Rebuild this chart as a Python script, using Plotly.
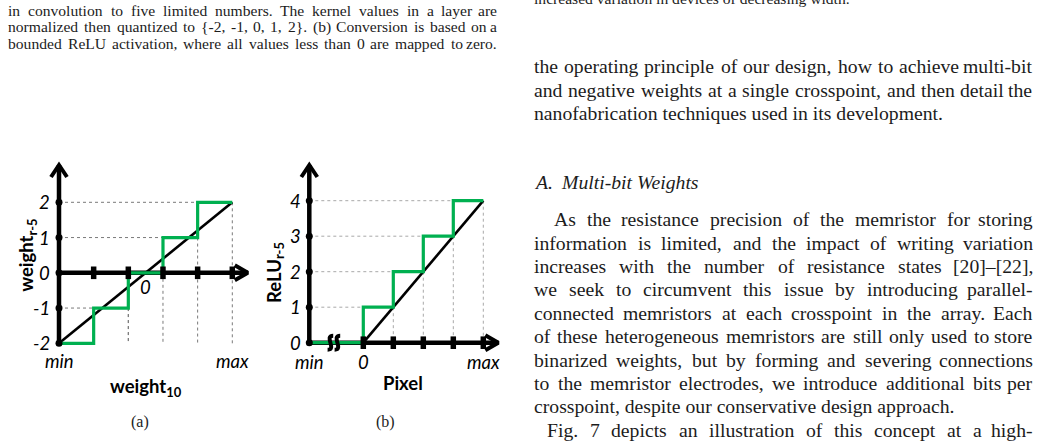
import plotly.graph_objects as go

W, H = 1042, 444

# ------------------------------------------------------------------ data
# chart (a): weight quantisation, x runs from min (0) to max (5)
a_x_min, a_x_max = 0, 5
a_x_zero = 2.5
a_levels = [-2, -1, 0, 1, 2]            # quantised output levels (one per step)
a_xticks = [1, 2, 3, 4, 5]              # tick dots on the weight10 axis
a_diag_x = [0, 5]
a_diag_y = [-2, 2]
a_ytick_text = ["2", "1", "0", "-1", "-2"]
a_ytick_vals = [2, 1, 0, -1, -2]

# chart (b): bounded ReLU, x runs from min (-1.8, broken axis) to max (4)
b_x_min, b_x_zero, b_x_max = -1.8, 0, 4
b_levels = [0, 1, 2, 3, 4]              # step values
b_step_edges = [-1.8, 0, 1, 2, 3, 4]    # x edges of the steps
b_xticks = [0, 1, 2, 3, 4]
b_diag_x = [0, 4]
b_diag_y = [0, 4]
b_ytick_text = ["4", "3", "2", "1", "0"]
b_ytick_vals = [4, 3, 2, 1, 0]

# page text
left_caption = [
    "in convolution to five limited numbers. The kernel values in a layer are",
    "normalized then quantized to {-2, -1, 0, 1, 2}. (b) Conversion is based on a",
    "bounded ReLU activation, where all values less than 0 are mapped to zero.",
]
right_caption_tail = "increased variation in devices of decreasing width."
right_intro = [
    "the operating principle of our design, how to achieve multi-bit",
    "and negative weights at a single crosspoint, and then detail the",
    "nanofabrication techniques used in its development.",
]
heading_num = "A."
heading_txt = "Multi-bit Weights"
right_para = [
    "As the resistance precision of the memristor for storing",
    "information is limited, and the impact of writing variation",
    "increases with the number of resistance states [20]\u2013[22],",
    "we seek to circumvent this issue by introducing parallel-",
    "connected memristors at each crosspoint in the array. Each",
    "of these heterogeneous memristors are still only used to store",
    "binarized weights, but by forming and severing connections",
    "to the memristor electrodes, we introduce additional bits per",
    "crosspoint, despite our conservative design approach.",
    "Fig. 7 depicts an illustration of this concept at a high-",
]

# ------------------------------------------------------------------ helpers
GREEN = "#00B050"
BLACK = "#000000"
TXT = "#1c1c1c"
SERIF = "Liberation Serif"
SANS = "Lato"


def axis_range(v0, p0, v1, p1, dom_lo, dom_hi, vertical=False):
    """range for an axis whose value v0 sits at pixel p0 and v1 at p1"""
    s = (p1 - p0) / (v1 - v0)
    lo = v0 + (dom_lo - p0) / s
    hi = v0 + (dom_hi - p0) / s
    return [lo, hi] if not vertical else [hi, lo]


A_DOM_X = (5, 262)
A_DOM_Y = (150, 400)
ax_rng = axis_range(0, 59.0, 5, 232.3, *A_DOM_X)
ay_rng = axis_range(2, 202.3, -2, 343.3, A_DOM_Y[0], A_DOM_Y[1], vertical=True)
B_DOM_X = (262, 520)
B_DOM_Y = (150, 400)
bx_rng = axis_range(0, 363.3, 4, 483.3, *B_DOM_X)
by_rng = axis_range(4, 200.7, 0, 342.7, B_DOM_Y[0], B_DOM_Y[1], vertical=True)
A_SX, A_SY = 34.66, 35.25   # px per unit
B_SX, B_SY = 30.0, 35.5

fig = go.Figure()


def line(xs, ys, color, width, xa, ya, dash=None):
    fig.add_trace(go.Scatter(x=xs, y=ys, mode="lines", xaxis=xa, yaxis=ya,
                             line=dict(color=color, width=width, dash=dash),
                             hoverinfo="skip", showlegend=False))


# ---------------- chart (a)
xa, ya = "x", "y"
lo = min(a_levels)
for k, lev in enumerate(a_levels):
    right = k + 1
    if lev != 0:
        line([a_x_min, right], [lev, lev], "#7a7a7a", 1, xa, ya, dash="dot")
    if lev != lo:
        line([right, right], [lev, lo], "#7a7a7a", 1, xa, ya, dash="dot")
line([2, 2], [a_levels[1], lo], "#7a7a7a", 1, xa, ya, dash="dot")

a_arrow_x = a_x_max + 15.5 / A_SX
a_arrow_y = max(a_levels) + (202.3 - 165) / A_SY
line([a_x_min, a_arrow_x], [0, 0], BLACK, 4.5, xa, ya)
line([a_x_min, a_x_min], [lo, a_arrow_y], BLACK, 4.5, xa, ya)
line([a_arrow_x - 13 / A_SX, a_arrow_x, a_arrow_x - 13 / A_SX],
     [7.5 / A_SY, 0, -7.5 / A_SY], BLACK, 4, xa, ya)
line([a_x_min - 8 / A_SX, a_x_min, a_x_min + 8 / A_SX],
     [a_arrow_y - 12 / A_SY, a_arrow_y, a_arrow_y - 12 / A_SY], BLACK, 4, xa, ya)

line(a_diag_x, a_diag_y, BLACK, 2.6, xa, ya)
sx, sy = [], []
for k, lev in enumerate(a_levels):
    sx += [k, k + 1]
    sy += [lev, lev]
line(sx, sy, GREEN, 3.2, xa, ya)
fig.add_trace(go.Scatter(x=a_xticks, y=[0] * len(a_xticks), mode="markers", xaxis=xa, yaxis=ya,
                         marker=dict(symbol="line-ns", size=9, line=dict(width=5.5, color=BLACK)),
                         hoverinfo="skip", showlegend=False))
fig.add_trace(go.Scatter(x=[a_x_min] * len(a_levels), y=a_levels, mode="markers", xaxis=xa, yaxis=ya,
                         marker=dict(symbol="circle", size=7, color=BLACK),
                         hoverinfo="skip", showlegend=False))

# ---------------- chart (b)
xb, yb = "x2", "y2"
for k, lev in enumerate(b_levels):
    if lev == 0:
        continue
    xr = b_step_edges[k + 1]
    line([b_x_min, xr], [lev, lev], "#a8a8a8", 1, xb, yb, dash="dot")
    line([xr, xr], [lev, 0], "#a8a8a8", 1, xb, yb, dash="dot")

b_arrow_x = b_x_max + 15 / B_SX
b_arrow_y = max(b_levels) + (200.7 - 165) / B_SY
line([b_x_min, b_arrow_x], [0, 0], BLACK, 4.5, xb, yb)
line([b_x_min, b_x_min], [0, b_arrow_y], BLACK, 4.5, xb, yb)
line([b_arrow_x - 13 / B_SX, b_arrow_x, b_arrow_x - 13 / B_SX],
     [7.5 / B_SY, 0, -7.5 / B_SY], BLACK, 4, xb, yb)
line([b_x_min - 8 / B_SX, b_x_min, b_x_min + 8 / B_SX],
     [b_arrow_y - 12 / B_SY, b_arrow_y, b_arrow_y - 12 / B_SY], BLACK, 4, xb, yb)

line(b_diag_x, b_diag_y, BLACK, 2.6, xb, yb)
sx, sy = [], []
for k, lev in enumerate(b_levels):
    sx += [b_step_edges[k], b_step_edges[k + 1]]
    sy += [lev, lev]
line(sx, sy, GREEN, 3.2, xb, yb)
fig.add_trace(go.Scatter(x=b_xticks, y=[0] * len(b_xticks), mode="markers", xaxis=xb, yaxis=yb,
                         marker=dict(symbol="line-ns", size=9, line=dict(width=5.5, color=BLACK)),
                         hoverinfo="skip", showlegend=False))
fig.add_trace(go.Scatter(x=[b_x_min] * len(b_levels), y=b_levels, mode="markers", xaxis=xb, yaxis=yb,
                         marker=dict(symbol="circle", size=7, color=BLACK),
                         hoverinfo="skip", showlegend=False))

# axis-break squiggles on (b)
shapes = []
brk = b_x_min + 0.82
for dxp in (-3.5, 3.5):
    cx = brk + dxp / B_SX
    hw, hh = 2.8 / B_SX, 7.0 / B_SY
    path = (f"M {cx + hw},{hh} C {cx - 2.4*hw},{hh} {cx + 2.4*hw},{-hh} {cx - hw},{-hh}")
    shapes.append(dict(type="path", path=path, xref=xb, yref=yb,
                       line=dict(color=BLACK, width=4)))

# ------------------------------------------------------------------ annotations
ann = []
LBL = dict(family=SANS, size=18.5, color=BLACK)


def data_label(text, x, y, xr, yr, xanchor="center", yanchor="middle", xshift=0, yshift=0, font=LBL,
               angle=0):
    ann.append(dict(text=text, x=x, y=y, xref=xr, yref=yr, xanchor=xanchor, yanchor=yanchor,
                    xshift=xshift, yshift=yshift, showarrow=False, font=font, textangle=angle,
                    borderpad=0))


for t, v in zip(a_ytick_text, a_ytick_vals):
    data_label(f"<i>{t}</i>", a_x_min, v, xa, ya, xanchor="right", xshift=-8)
for t, v in zip(b_ytick_text, b_ytick_vals):
    data_label(f"<i>{t}</i>", b_x_min, v, xb, yb, xanchor="right", xshift=-7)

data_label("<i>min</i>", a_x_min, min(a_levels), xa, ya, yshift=-18)
data_label("<i>max</i>", a_x_max, min(a_levels), xa, ya, yshift=-18)
data_label("<i>0</i>", a_x_zero, 0, xa, ya, yshift=-14)
data_label("<i>min</i>", b_x_min, 0, xb, yb, yshift=-19)
data_label("<i>0</i>", b_x_zero, 0, xb, yb, yshift=-19)
data_label("<i>max</i>", b_x_max, 0, xb, yb, yshift=-19)

TITLE = dict(family=SANS, size=18.5, color=BLACK)
data_label("<b>weight<sub>10</sub></b>", (a_x_min + a_x_max) / 2, min(a_levels), xa, ya,
           yshift=-44, font=TITLE)
data_label("<b>Pixel</b>", 403 / W, 0, "paper", yb, yshift=-40, font=TITLE)
data_label("<b>weight<sub>r-5</sub></b>", a_x_min, 0, xa, ya, xshift=-31, yshift=17, font=TITLE,
           angle=-90)
data_label("<b>ReLU<sub>r-5</sub></b>", b_x_min, 2, xb, yb, xshift=-34, yshift=-1, font=TITLE,
           angle=-90)

SUBFONT = dict(family=SERIF, size=16, color=TXT)
ann.append(dict(text="(a)", x=140 / W, y=1 - 422 / H, xref="paper", yref="paper",
                xanchor="center", yanchor="middle",
                showarrow=False, font=SUBFONT, borderpad=0))
ann.append(dict(text="(b)", x=385 / W, y=1 - 422 / H, xref="paper", yref="paper",
                xanchor="center", yanchor="middle",
                showarrow=False, font=SUBFONT, borderpad=0))

# Times character widths (1/1000 em)
TW = {' ': 250, '!': 333, '"': 408, '#': 500, '$': 500, '%': 833, '&': 778, "'": 180, '(': 333,
      ')': 333, '*': 500, '+': 564, ',': 250, '-': 333, '.': 250, '/': 278, ':': 278, ';': 278,
      '<': 564, '=': 564, '>': 564, '?': 444, '@': 921, '[': 333, '\\': 278, ']': 333, '^': 469,
      '_': 500, '{': 480, '|': 200, '}': 480, '~': 541, '\u2013': 500,
      'A': 722, 'B': 667, 'C': 667, 'D': 722, 'E': 611, 'F': 556, 'G': 722, 'H': 722, 'I': 333,
      'J': 389, 'K': 722, 'L': 611, 'M': 889, 'N': 722, 'O': 722, 'P': 556, 'Q': 722, 'R': 667,
      'S': 556, 'T': 611, 'U': 722, 'V': 722, 'W': 944, 'X': 722, 'Y': 722, 'Z': 611,
      'a': 444, 'b': 500, 'c': 444, 'd': 500, 'e': 444, 'f': 333, 'g': 500, 'h': 500, 'i': 278,
      'j': 278, 'k': 500, 'l': 278, 'm': 778, 'n': 500, 'o': 500, 'p': 500, 'q': 500, 'r': 333,
      's': 389, 't': 278, 'u': 500, 'v': 500, 'w': 722, 'x': 500, 'y': 500, 'z': 444}


def tw(s, fs):
    return sum(TW.get(c, 500) for c in s) * fs / 1000.0


def word(text, x, baseline, fs, anchor, italic=False):
    t = f"<i>{text}</i>" if italic else text
    ann.append(dict(text=t, x=x / W, y=1 - (baseline - 0.3375 * fs) / H, xref="paper", yref="paper",
                    xanchor=anchor, yanchor="middle", showarrow=False, borderpad=0,
                    font=dict(family=SERIF, size=fs, color=TXT)))


def text_line(text, x0, x1, baseline, fs, justify=True):
    words = text.split(" ")
    if not justify:
        word(text, x0, baseline, fs, "left")
        return
    widths = [tw(w, fs) for w in words]
    gap = (x1 - x0 - sum(widths)) / (len(words) - 1)
    x = x0
    for i, w in enumerate(words):
        if i == len(words) - 1:
            word(w, x1, baseline, fs, "right")
        else:
            word(w, x, baseline, fs, "left")
        x += widths[i] + gap


CAP = 15.6
BODY = 19.7
for i, t in enumerate(left_caption):
    text_line(t, 7.3, 498.3, 15.3 + 16.8 * i, CAP, justify=True)

text_line(right_caption_tail, 533, 1034, 4.0, CAP, justify=False)
for i, t in enumerate(right_intro):
    text_line(t, 533, 1033, 72.8 + 23.4 * i, BODY, justify=(i < len(right_intro) - 1))

word(heading_num, 533, 188.5, BODY, "left", italic=True)
word(heading_txt, 559.5, 188.5, BODY, "left", italic=True)

for i, t in enumerate(right_para):
    base = 225.8 + 23.4 * i
    if i == 0:
        text_line(t, 553, 1034, base, BODY)
    elif t.startswith("Fig."):
        text_line(t, 546, 1034, base, BODY)
    elif i == len(right_para) - 2:
        text_line(t, 533, 1034, base, BODY, justify=False)
    else:
        text_line(t, 533, 1034, base, BODY)

# ------------------------------------------------------------------ layout
def dom(p_lo, p_hi, total, vertical=False):
    if vertical:
        return [1 - p_hi / total, 1 - p_lo / total]
    return [p_lo / total, p_hi / total]


AX = dict(visible=False, showgrid=False, zeroline=False, fixedrange=True)
fig.update_layout(
    width=W, height=H, margin=dict(l=0, r=0, t=0, b=0),
    paper_bgcolor="white", plot_bgcolor="rgba(0,0,0,0)",
    xaxis=dict(domain=dom(*A_DOM_X, W), range=ax_rng, anchor="y", **AX),
    yaxis=dict(domain=dom(*A_DOM_Y, H, vertical=True), range=ay_rng, anchor="x", **AX),
    xaxis2=dict(domain=dom(*B_DOM_X, W), range=bx_rng, anchor="y2", **AX),
    yaxis2=dict(domain=dom(*B_DOM_Y, H, vertical=True), range=by_rng, anchor="x2", **AX),
    annotations=ann, shapes=shapes, showlegend=False,
)
fig.update_traces(cliponaxis=False)

fig.write_html("out.html", config={"displayModeBar": False})
